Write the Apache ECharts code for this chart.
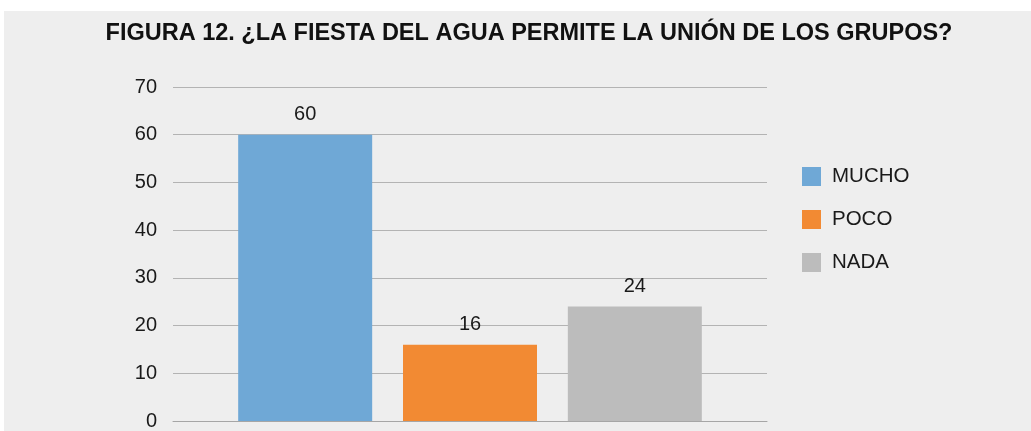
<!DOCTYPE html>
<html>
<head>
<meta charset="utf-8">
<script src="https://cdn.jsdelivr.net/npm/echarts@6/dist/echarts.min.js"></script>
<style>
    html, body { margin: 0; padding: 0; background: #ffffff; }
    #chart { width: 1031px; height: 431px; }
</style>
</head>
<body>
<div id="chart"></div>
<script>
const titleText = 'FIGURA 12. ¿LA FIESTA DEL AGUA PERMITE LA UNIÓN DE LOS GRUPOS?';
const categories = ['MUCHO', 'POCO', 'NADA'];
const values = [60, 16, 24];
const colors = ['#6fa8d6', '#f28a33', '#bcbcbc'];
const yMin = 0, yMax = 70, yStep = 10;
const font = 'Liberation Sans, Arial, sans-serif';

let myChart = echarts.init(document.getElementById('chart'));
let series = [];
categories.forEach((name, i) => {
    series.push({
        name: name,
        type: 'bar',
        data: [values[i]],
        barWidth: 134,
        barGap: '23%',
        itemStyle: { color: colors[i] },
        label: {
            show: true,
            position: 'top',
            distance: 10,
            color: '#1a1a1a',
            fontSize: 20,
            fontFamily: font
        }
    })
})
let option = {
    animation: false,
    backgroundColor: '#ffffff',
    graphic: [{
        type: 'rect',
        left: 4, top: 11,
        shape: { width: 1027, height: 420 },
        style: { fill: '#eeeeee' },
        z: -10
    }],
    title: {
        text: titleText,
        left: 524,
        textAlign: 'center',
        top: 17,
        textStyle: {
            color: '#111111',
            fontSize: 23.5,
            fontWeight: 'bold',
            fontFamily: font
        }
    },
    legend: {
        orient: 'vertical',
        left: 797,
        top: 161,
        itemWidth: 19,
        itemHeight: 19,
        itemGap: 22,
        icon: 'rect',
        textStyle: {
            color: '#1a1a1a',
            fontSize: 20.5,
            fontFamily: font,
            padding: [0, 0, 0, 6]
        },
        data: categories
    },
    grid: { left: 173, right: 264, top: 87, bottom: 7 },
    xAxis: {
        type: 'category',
        data: [''],
        axisLine: { lineStyle: { color: '#a6a6a6', width: 1 } },
        axisTick: { show: false },
        axisLabel: { show: false }
    },
    yAxis: {
        type: 'value',
        min: yMin,
        max: yMax,
        interval: yStep,
        axisLine: { show: false },
        axisTick: { show: false },
        axisLabel: {
            margin: 16,
            color: '#1a1a1a',
            fontSize: 20,
            fontFamily: font
        },
        splitLine: { lineStyle: { color: '#b3b3b3', width: 1 } }
    },
    series: series
}
myChart.setOption(option);
</script>
</body>
</html>
